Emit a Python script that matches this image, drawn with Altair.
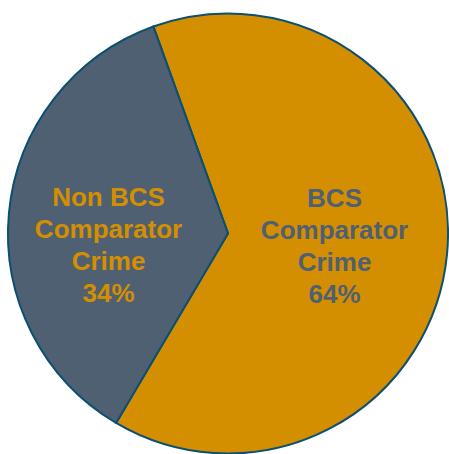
import altair as alt
import pandas as pd

categories = ["BCS Comparator Crime", "Non BCS Comparator Crime"]
shares = [64, 36]  # slice sizes as drawn
label_lines = [["BCS", "Comparator", "Crime", "64%"], ["Non BCS", "Comparator", "Crime", "34%"]]
order = [0, 1]
fill_colors = ["#D48F00", "#4F6072"]
text_colors = ["#4F6072", "#D48F00"]

df = pd.DataFrame({
    "cat": categories,
    "share": shares,
    "order": order,
    "label": ["\n".join(l) for l in label_lines],
})

TAU = 2 * 3.141592653589793
start = TAU - 0.346
theta_scale = alt.Scale(domain=[0, 100], range=[start, start + TAU])

base = alt.Chart(df).transform_stack(
    stack="share", as_=["s0", "s1"], groupby=[], sort=[alt.SortField("order")]
).transform_calculate(mid="(datum.s0 + datum.s1) / 2")

pie = base.mark_arc(radius=220, stroke="#0B4F72", strokeWidth=2).encode(
    theta=alt.Theta("s0:Q", scale=theta_scale),
    theta2="s1:Q",
    color=alt.Color("cat:N", scale=alt.Scale(domain=categories, range=fill_colors), legend=None),
)

def text_layer(cat, r, dy):
    return base.transform_filter(alt.datum.cat == cat).mark_text(
        radius=r, font="Liberation Sans", fontWeight="bold", fontSize=26,
        lineBreak="\n", lineHeight=32, align="center", baseline="middle", dy=dy,
    ).encode(
        theta=alt.Theta("mid:Q", scale=theta_scale),
        text="label:N",
        color=alt.Color("cat:N", scale=alt.Scale(domain=categories, range=text_colors), legend=None),
    )

chart = alt.layer(
    pie,
    text_layer(categories[0], 107, -45),
    text_layer(categories[1], 120, -24),
).resolve_scale(color="independent", theta="shared").properties(
    width=442, height=441,
    padding={"left": 7, "top": 13, "right": 0, "bottom": 0},
    autosize=alt.AutoSizeParams(type="none"),
    background="white",
).configure_view(stroke=None)

chart.save("out.html", embed_options={"renderer": "svg", "actions": False})
